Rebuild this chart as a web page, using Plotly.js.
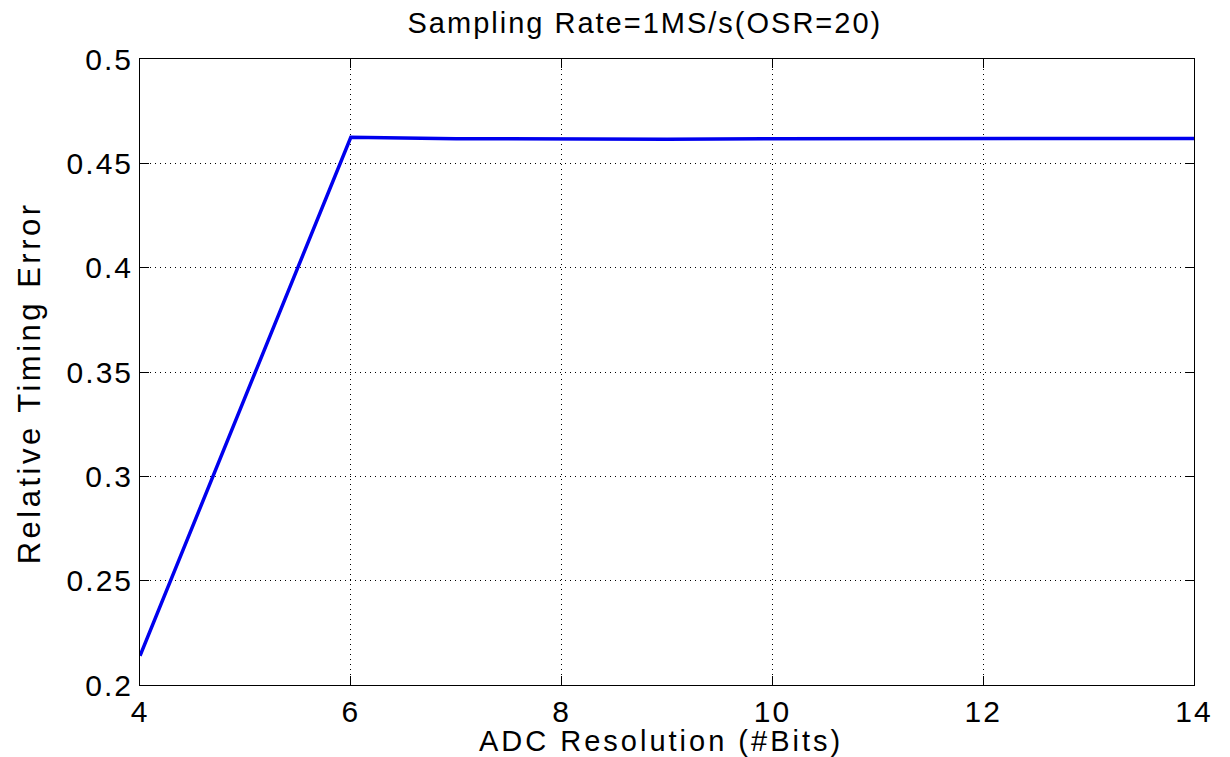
<!DOCTYPE html>
<html>
<head>
<meta charset="utf-8">
<script src="https://cdn.plot.ly/plotly-3.0.1.min.js"></script>
<style>
html,body{margin:0;padding:0;background:#fff;}
#chart{width:1230px;height:757px;}
#chart .gtitle{letter-spacing:2px;}
#chart .xtick text, #chart .ytick text{letter-spacing:2px;}
#chart .annotation[data-index="0"] text{letter-spacing:3px;}
#chart .annotation[data-index="1"] text{letter-spacing:3.5px;}
</style>
</head>
<body>
<div id="chart"></div>
<script>
const bits = [4, 5, 6, 7, 8, 9, 10, 11, 12, 13, 14];
const timingError = [0.214, 0.338, 0.4625, 0.4618, 0.4615, 0.4616, 0.4618, 0.4618, 0.4615, 0.4616, 0.4619];
const xTickVals = [4, 6, 8, 10, 12, 14];
const xTickText = ['4', '6', '8', '10', '12', '14'];
const yTickVals = [0.2, 0.25, 0.3, 0.35, 0.4, 0.45, 0.5];
const yTickText = ['0.2', '0.25', '0.3', '0.35', '0.4', '0.45', '0.5'];
const chartTitle = 'Sampling Rate=1MS/s(OSR=20)';
const xTitle = 'ADC Resolution (#Bits)';
const yTitle = 'Relative Timing Error';

const font = 'Liberation Sans, Arial, sans-serif';
const axisCommon = {
  showline: true, linecolor: '#000', linewidth: 1, mirror: 'allticks',
  ticks: 'inside', ticklen: 9, tickcolor: '#000', tickwidth: 1,
  showgrid: true, gridcolor: '#000', gridwidth: 1, griddash: '1px,4px',
  zeroline: false, tickfont: {family: font, size: 30, color: '#000'},
  tickmode: 'array'
};

Plotly.newPlot('chart', [{
  x: bits, y: timingError, type: 'scatter', mode: 'lines',
  line: {color: '#0000ee', width: 3.5}, hoverinfo: 'x+y'
}], {
  width: 1230, height: 757,
  paper_bgcolor: '#fff', plot_bgcolor: '#fff',
  margin: {l: 140, r: 36, t: 59, b: 72},
  showlegend: false,
  title: {text: chartTitle, font: {family: font, size: 29, color: '#000'},
          x: 0.479, xref: 'paper', xanchor: 'center', y: 0.97, yref: 'container', yanchor: 'middle'},
  xaxis: Object.assign({}, axisCommon, {range: [4, 14], tickvals: xTickVals, ticktext: xTickText}),
  yaxis: Object.assign({}, axisCommon, {range: [0.2, 0.5], tickvals: yTickVals, ticktext: yTickText}),
  annotations: [
    {text: xTitle, xref: 'paper', yref: 'paper', x: 0.494, y: -0.09, xanchor: 'center', yanchor: 'middle',
     showarrow: false, font: {family: font, size: 29, color: '#000'}},
    {text: yTitle, xref: 'paper', yref: 'paper', x: -0.105, y: 0.482, xanchor: 'center', yanchor: 'middle',
     textangle: -90, showarrow: false, font: {family: font, size: 31, color: '#000'}}
  ]
}, {displayModeBar: false});
</script>
</body>
</html>
